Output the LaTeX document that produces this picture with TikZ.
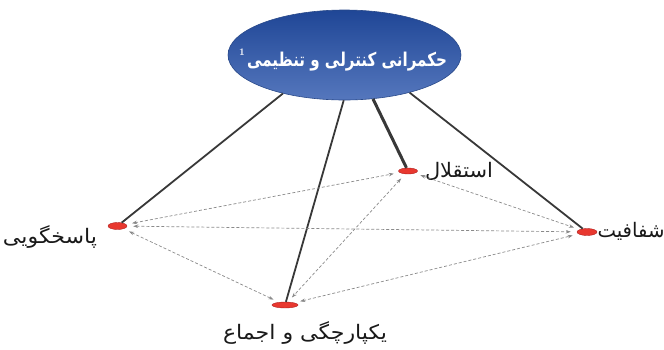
\documentclass[tikz,border=0pt]{standalone}
\usepackage{fontspec}
\usetikzlibrary{shapes.geometric,arrows.meta}
\newfontfamily\arabicfont[Script=Arabic]{DejaVu Sans}
\TeXXeTstate=1
\definecolor{govtop}{HTML}{1F4696}
\definecolor{govbot}{HTML}{5577BD}
\definecolor{govedge}{HTML}{2A4A8A}
\definecolor{redfill}{HTML}{E8382F}
\definecolor{rededge}{HTML}{B02020}
\definecolor{solidline}{HTML}{383838}
\definecolor{dashline}{HTML}{8A8A8A}
\tikzset{
  govbox/.style={ellipse, draw=govedge, line width=0.6pt, top color=govtop, bottom color=govbot, minimum width=233pt, minimum height=90pt, inner sep=0pt},
  dot/.style={ellipse, draw=rededge, line width=0.4pt, fill=redfill, inner sep=0pt},
  lbl/.style={font=\arabicfont\fontsize{20}{24}\selectfont, text=black!90, inner sep=0pt},
  solid link/.style={draw=solidline, line width=1.8pt},
  dash link/.style={draw=dashline, line width=0.7pt, dash pattern=on 3pt off 2pt, {Stealth[length=5pt,width=3.5pt,fill=black!75]}-{Stealth[length=5pt,width=3.5pt,fill=black!75]}, shorten <=6pt, shorten >=6pt}
}
\begin{document}
\begin{tikzpicture}[x=1pt,y=-1pt]
\useasboundingbox (0,0) rectangle (664,349);
% main ellipse
\node[govbox] (gov) at (344.5,55) {};
\node[font=\arabicfont\bfseries\fontsize{19}{22}\selectfont, text=white, inner sep=0pt] (govtext) at (347,62) {\resizebox{200pt}{\height}{\beginR حکمرانی کنترلی و تنظیمی\endR}};
\node[font=\fontsize{10}{11}\selectfont\bfseries, text=white, inner sep=0pt] (sup) at (242,52) {1};
% red nodes
\node[dot, minimum width=19pt, minimum height=7pt] (acc) at (117.5,226) {};
\node[dot, minimum width=19pt, minimum height=6pt] (ind) at (408,171) {};
\node[dot, minimum width=20pt, minimum height=7pt] (tra) at (587,232) {};
\node[dot, minimum width=26pt, minimum height=6pt] (int) at (285,305) {};
% labels
\node[lbl] (accl) at (50,237) {\resizebox{94pt}{\height}{\beginR پاسخگویی\endR}};
\node[lbl] (indl) at (459,171) {\resizebox{68pt}{\height}{\beginR استقلال\endR}};
\node[lbl] (tral) at (631,231) {\resizebox{67pt}{\height}{\beginR شفافیت\endR}};
\node[lbl] (intl) at (305,333) {\resizebox{164pt}{\height}{\beginR یکپارچگی و اجماع\endR}};
% solid links
\draw[solid link] (gov.212) -- (acc);
\draw[solid link] (gov.269) -- (int);
\draw[solid link, line width=3pt] (gov.303) -- (ind);
\draw[solid link] (gov.330) -- (tra);
% dashed links
\draw[dash link] (acc) -- (ind);
\draw[dash link] (acc) -- (tra);
\draw[dash link] (acc) -- (int);
\draw[dash link] (ind) -- (int);
\draw[dash link] (ind) -- (tra);
\draw[dash link] (int) -- (tra);
\end{tikzpicture}
\end{document}
